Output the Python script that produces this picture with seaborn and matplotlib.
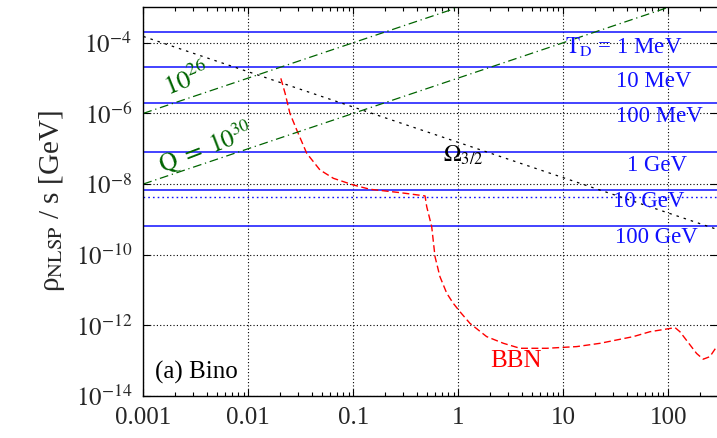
import numpy as np
import matplotlib
matplotlib.use("Agg")
import matplotlib.pyplot as plt
import matplotlib.ticker as mticker
import pandas as pd
import seaborn as sns

# BBN constraint (red dashed)
bbn_mass = [0.0204, 0.0224, 0.0249, 0.0289, 0.036, 0.0481, 0.0646, 0.1, 0.144,
            0.279, 0.482, 0.5, 0.558, 0.6, 0.668, 0.776, 0.895, 1.04, 1.29, 1.86,
            2.69, 3.87, 6.95, 13.4, 22.4, 46.5, 67.0, 116, 129, 186, 215, 249, 289]
bbn_rho = [9.8e-6, 3.7e-6, 1.0e-6, 3.4e-7, 7.4e-8, 2.5e-8, 1.45e-8, 9.4e-9, 7.1e-9,
           5.7e-9, 4.6e-9, 2.3e-9, 6.2e-10, 8.8e-11, 2.4e-11, 8.1e-12, 4.2e-12, 2.4e-12,
           1.14e-12, 4.8e-13, 3.1e-13, 2.24e-13, 2.24e-13, 2.5e-13, 3.1e-13, 4.8e-13,
           6.6e-13, 8.6e-13, 6.6e-13, 1.6e-13, 1.1e-13, 1.3e-13, 2.5e-13]

# Omega_3/2 line (black dotted)
omega_mass = [0.001, 291]
omega_rho = [1.5e-4, 5.2e-10]

# Q lines (green dash-dot)
q26_mass = [0.001, 1.0]
q26_rho = [1e-6, 1e-3]
q30_mass = [0.001, 100]
q30_rho = [1e-8, 1e-3]

# decay temperature levels (blue)
td_levels = [2e-4, 2e-5, 1.95e-6, 8e-8, 6.8e-9, 6.6e-10]
td_labels = [r"$\mathrm{T_D}$ = 1 MeV", "10 MeV", "100 MeV", "1 GeV", "10 GeV", "100 GeV"]
td_label_x = [10.4, 31.8, 31.8, 40.2, 29.7, 31.0]
td_label_y = [5.0e-5, 5.7e-6, 5.8e-7, 2.4e-8, 2.3e-9, 2.1e-10]
dotted_level = 4.4e-9

x_ticks = [0.001, 0.01, 0.1, 1, 10, 100]
x_ticklabels = ["0.001", "0.01", "0.1", "1", "10", "100"]
y_ticks = [1e-14, 1e-12, 1e-10, 1e-8, 1e-6, 1e-4]
y_ticklabels = [r"$10^{-14}$", r"$10^{-12}$", r"$10^{-10}$", r"$10^{-8}$", r"$10^{-6}$", r"$10^{-4}$"]

sns.set_theme(style="ticks")
plt.rcParams["font.family"] = ["Liberation Serif", "DejaVu Serif"]
plt.rcParams["mathtext.fontset"] = "stix"

fig = plt.figure(figsize=(7.17, 4.38), dpi=100)
ax = fig.add_axes([0.1999, 0.0959, 0.8001, 0.8873])

green = "#006400"
blue = "#1010ff"

df_bbn = pd.DataFrame({"m": bbn_mass, "rho": bbn_rho})
sns.lineplot(data=df_bbn, x="m", y="rho", ax=ax, color="red", lw=1.0,
             estimator=None, sort=False)
ax.lines[-1].set_dashes((5, 2.5))

for xs, ys, c, d in [(omega_mass, omega_rho, "black", (2, 4)),
                     (q26_mass, q26_rho, green, (7, 3, 1, 3)),
                     (q30_mass, q30_rho, green, (7, 3, 1, 3))]:
    sns.lineplot(x=xs, y=ys, ax=ax, color=c, lw=0.9, estimator=None, sort=False)
    ax.lines[-1].set_dashes(d)

for lev in td_levels:
    ax.axhline(lev, color=blue, lw=1.1, zorder=1)
ax.axhline(dotted_level, color=blue, lw=1.0, ls=(0, (1.2, 2.2)), zorder=1)

ax.set_xscale("log")
ax.set_yscale("log")
ax.set_xlim(0.001, 291)
ax.set_ylim(1e-14, 1e-3)

ax.xaxis.set_major_locator(mticker.FixedLocator(x_ticks))
ax.xaxis.set_major_formatter(mticker.FixedFormatter(x_ticklabels))
ax.xaxis.set_minor_locator(mticker.LogLocator(base=10, subs=np.arange(2, 10), numticks=20))
ax.xaxis.set_minor_formatter(mticker.NullFormatter())
ax.yaxis.set_major_locator(mticker.FixedLocator(y_ticks))
ax.yaxis.set_major_formatter(mticker.FixedFormatter(y_ticklabels))
ax.yaxis.set_minor_locator(mticker.NullLocator())

ax.tick_params(which="both", direction="in", top=True, right=True, labelsize=18,
               color="black", width=0.8)
ax.tick_params(which="major", length=5, pad=8)
ax.tick_params(which="minor", length=3)
ax.grid(True, which="major", color="black", lw=0.8, ls=(0, (1, 2)))
for s in ["left", "bottom", "top"]:
    ax.spines[s].set_color("black")
    ax.spines[s].set_linewidth(1.0)
ax.spines["right"].set_visible(False)

ax.set_xlabel("")
ax.set_ylabel(r"ρ$_{\mathrm{NLSP}}$ / s [GeV]", fontsize=21, labelpad=6)

for lab, lx, ly in zip(td_labels, td_label_x, td_label_y):
    ax.text(lx, ly, lab, color=blue, fontsize=16.5, ha="left", va="baseline")

ax.text(0.714, 4.2e-8, r"$\Omega_{\mathrm{3/2}}$", color="black", fontsize=17,
        ha="left", va="baseline")
ax.text(0.0026, 8.8e-6, r"$\mathrm{10^{26}}$", color=green, fontsize=19,
        rotation=22, ha="center", va="center", rotation_mode="anchor")
ax.text(0.0039, 1.03e-7, r"$\mathrm{Q\ =\ 10^{30}}$", color=green, fontsize=18,
        rotation=21, ha="center", va="center", rotation_mode="anchor")
ax.text(3.58, 1.0e-13, "BBN", color="red", fontsize=18, ha="center", va="center")
ax.text(0.0204, 0.046, "(a) Bino", color="black", fontsize=18,
        transform=ax.transAxes, ha="left", va="baseline")

fig.savefig("out.png", dpi=100)
